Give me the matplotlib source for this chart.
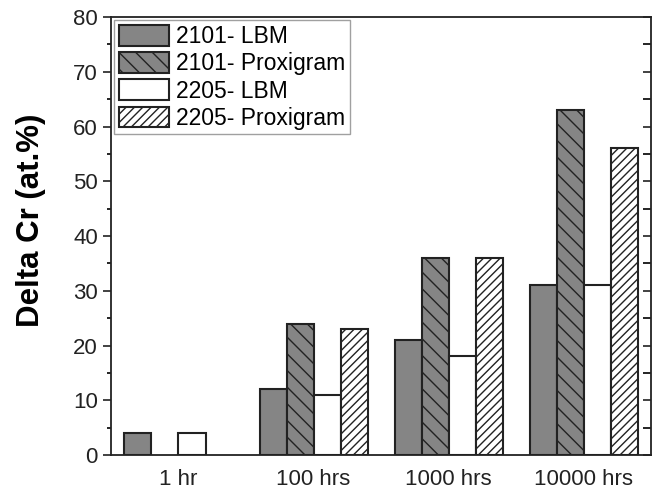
import matplotlib.pyplot as plt
from matplotlib.ticker import MultipleLocator
import numpy as np

plt.rcParams['font.family'] = ['Liberation Sans', 'DejaVu Sans']
plt.rcParams['hatch.linewidth'] = 1.0

# data
times = ['1 hr', '100 hrs', '1000 hrs', '10000 hrs']
lbm_2101 = [4, 12, 21, 31]
prox_2101 = [np.nan, 24, 36, 63]
lbm_2205 = [4, 11, 18, 31]
prox_2205 = [np.nan, 23, 36, 56]

series = [
    ('2101- LBM', lbm_2101, '#858585', ''),
    ('2101- Proxigram', prox_2101, '#858585', '\\\\'),
    ('2205- LBM', lbm_2205, 'white', ''),
    ('2205- Proxigram', prox_2205, 'white', '////'),
]

fig = plt.figure(figsize=(6.63, 4.9), dpi=100)
ax = fig.add_axes([0.1674, 0.0714, 0.8146, 0.8939])

x = np.arange(len(times))
w = 0.2
for k, (name, vals, fc, hatch) in enumerate(series):
    ax.bar(x + (k - 1.5) * w, vals, w, color=fc, edgecolor='#222222',
           linewidth=1.5, hatch=hatch, label=name)

ax.set_xlim(-0.5, 3.5)
ax.set_ylim(0, 80)
ax.set_xticks(x)
ax.set_xticklabels(times)
ax.yaxis.set_major_locator(MultipleLocator(10))
ax.yaxis.set_minor_locator(MultipleLocator(5))
ax.tick_params(axis='x', length=0, labelsize=16, pad=10, colors='#222222')
ax.tick_params(axis='y', which='major', direction='out', length=6, width=1.2,
               labelsize=16, colors='#222222', right=True)
ax.tick_params(axis='y', which='minor', direction='out', length=3, width=1.2, right=True)
# right-side ticks point inward
for t in ax.yaxis.get_major_ticks() + ax.yaxis.get_minor_ticks():
    t.tick2line.set_marker(0)
    t.tick2line.set_markersize(6)

for s in ax.spines.values():
    s.set_linewidth(1.3)
    s.set_color('#222222')

ax.set_ylabel('Delta Cr (at.%)', fontsize=22.5, fontweight='bold')
ax.yaxis.set_label_coords(-0.12, 0.535)

leg = ax.legend(loc='upper left', fontsize=16.5, frameon=True, fancybox=False,
                edgecolor='#888888', handlelength=2.2, handleheight=1.0,
                labelspacing=0.18, handletextpad=0.3, borderpad=0.2,
                borderaxespad=0.15)
leg.get_frame().set_linewidth(1.0)

fig.savefig('out.png', dpi=100)
